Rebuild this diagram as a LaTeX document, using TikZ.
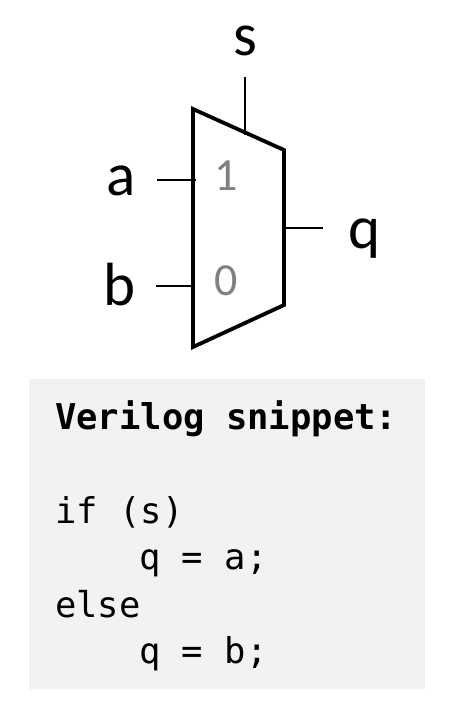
\documentclass[tikz,border=0pt]{standalone}
\usepackage{fontspec}
\setmainfont{Carlito}
\setmonofont{DejaVu Sans Mono}
\begin{document}
\begin{tikzpicture}[x=1pt,y=-1pt,
  mux/.style={line width=3.8pt, line join=miter},
  wire/.style={line width=1.5pt},
  port/.style={font=\fontsize{61}{61}\selectfont, anchor=base, inner sep=0pt},
  sel/.style={font=\fontsize{46}{46}\selectfont, text=black!50, anchor=base, inner sep=0pt},
  code/.style={font=\ttfamily\fontsize{35.5}{35.5}\selectfont, anchor=base west, inner sep=0pt}]
\useasboundingbox (0,0) rectangle (456,713);
\fill[black!5] (29,379) rectangle (425,689);
\draw[mux] (193,109) -- (284,150) -- (284,305) -- (193,347) -- cycle;
\node[port] (s) at (245,55) {s};
\node[port] (a) at (121,195) {a};
\node[port] (b) at (120,305) {b};
\node[port] (q) at (365,248) {q};
\node[sel] (one) at (226,190) {1};
\node[sel] (zero) at (226,295) {0};
\coordinate (sin) at (245,77);
\coordinate (sout) at (245,135);
\coordinate (ain) at (157,180);
\coordinate (aout) at (196,180);
\coordinate (bin) at (156,286);
\coordinate (bout) at (193,286);
\coordinate (qin) at (284,228);
\coordinate (qout) at (323,228);
\draw[wire] (sin) -- (sout);
\draw[wire] (ain) -- (aout);
\draw[wire] (bin) -- (bout);
\draw[wire] (qin) -- (qout);
\node[code, font=\ttfamily\bfseries\fontsize{35.5}{35.5}\selectfont] (title) at (55,429) {Verilog snippet:};
\node[code] (ifline) at (55,523) {if (s)};
\node[code] (qa) at (139,569) {q = a;};
\node[code] (elseline) at (55,617) {else};
\node[code] (qb) at (139,663) {q = b;};
\end{tikzpicture}
\end{document}
